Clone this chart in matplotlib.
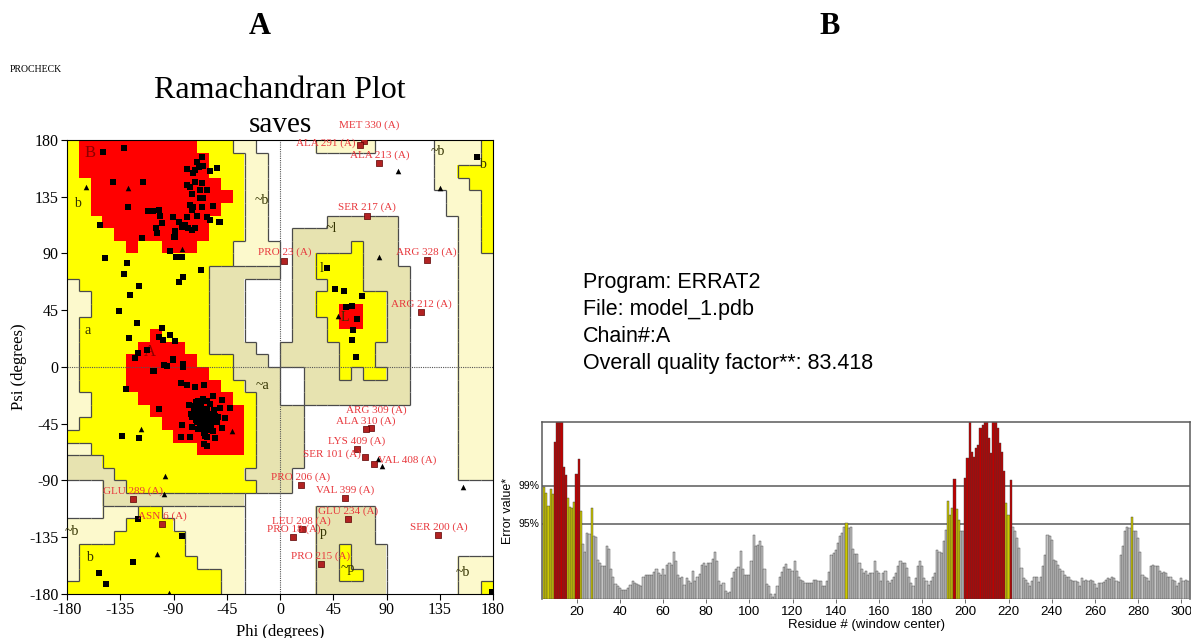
import matplotlib.pyplot as plt
import numpy as np
from matplotlib.colors import ListedColormap
from matplotlib.collections import LineCollection
import matplotlib.transforms as mtransforms

plt.rcParams['font.family'] = 'Liberation Serif'
plt.rcParams['axes.unicode_minus'] = False
SANS = 'Liberation Sans'

# ---------------- Ramachandran data ----------------
# 10 degree cells, rows psi 180 -> -180, columns phi -180 -> 180
# R core, Y allowed, G / g generously allowed, . disallowed
region_rows = [
    "YRRRRRRRRRRYYYgg.....ggggg.....ggggY",
    "YRRRRRRRRRRRYYYgg..............ggggY",
    "YRRRRRRRRRRRYYYgg..............ggYYY",
    "YYRRRRRRRRRRRYYgg..............gggYY",
    "YYRRRRRRRRRRRRYgg...............gggY",
    "YYRRRRRRRRRRRYYgg...............gggY",
    "YYYRRRRRRRRRYYYgg.....GGGGGG.....ggY",
    "YYYYRRRRRRRRYYYgg..GGGGGGGGG.....ggY",
    "YYYYYRYYRRRYYYgggg.GGGGGYGGG.....ggY",
    "YYYYYYYYYYYYYYgggg.GGYYYYGGG.....ggg",
    "YYYYYYYYYYYYGGGGGG.GGYYYYGGGG....ggg",
    "gYYYYYYYYYYYGGG....GGGYYYGGGG....ggg",
    "ggYYYYYYYYYYGGG....GGYYYYYYGG....ggg",
    "ggYYYYYYYYYYGGG....GGYYRRYYGG....ggg",
    "gYYYYYYYYYYYGGG....GGGYRRYYGG....ggg",
    "gYYYYYYRYYYYGGG....GGGYYYYYGG....ggg",
    "gYYYYYRRRRYYGGGG..GGGGGYYYGGG....ggg",
    "gYYYYRRRRRRYYYGGG.GGGGGYYYGGG....ggg",
    "gYYYYRRRRRRRYYGGGG..GGGYGYYGG....ggg",
    "gYYYYRRRRRRRRYYGGG..GGGGGGGGG....ggg",
    "ggYYYYRRRRRRRRYYGG..GGGGGGGGG....ggg",
    "ggYYYYYRRRRRRRRYGGGG.............ggg",
    "gYYYYYYYRRRRRRRYGGGG.............ggg",
    "YYYYYYYYYRRRRRRYGGGG.............ggg",
    "ggYYYYYYYYYRRRRYGGGG.............ggg",
    "GGGYYYYYYYYYYYYYGGGG.............ggg",
    "GGGGYYYYYYYYYYYGGGG..............ggg",
    "...GGYYYYYYYYYYYGGG.................",
    "...GGGGGGGGGGGG.....................",
    "...gggYYggggggg......GGGGG..........",
    "gggggYYYYgggggg......GGGGG..........",
    "ggggYYYYYYggggg......GGGGG..........",
    "gYYYYYYYYYggggg......GGYGGG.........",
    "gYYYYYYYYYYgggg......GGYGGG......ggg",
    "gYYYYYYYYYYYYgg......GGYYGG......ggg",
    "YYYYYYYYYYYYYgg......GGGGGG......ggY",
]
region_codes = '.gGYR'
region_colors = ['#FFFFFF', '#FCF9CC', '#E7E3B0', '#FFFF00', '#FF0000']

# residues (black squares)
phi_sq = [-149.8, -131.8, -141.4, -116.0, -128.2, -152.1, -147.6, -116.9, -111.8, -107.0,
          -102.5, -101.7, -105.0, -104.3, -100.0, -90.2, -88.6, -89.5, -93.0, -88.2,
          -83.2, -85.4, -82.3, -66.5, -129.6, -131.6, -118.9, -126.8, -136.3, -121.1,
          -127.9, -100.0, -93.0, -88.7, -99.2, -102.0, -112.6, -119.7, -122.5, -90.8,
          -97.8, -95.5, -82.2,
          -66.2, -70.4, -68.2, -71.8, -78.8, -59.2, -53.5, -64.8, -73.3, -78.8,
          -76.0, -71.8, -67.6, -61.9, -66.2, -74.6, -67.6, -64.8, -76.0, -73.2,
          -74.6, -66.2, -56.4, -78.8, -70.4, -61.9, -59.2, -51.3, -85.1, -82.8,
          -80.3, -77.5, -74.6, -71.8, -90.8, -88.7, -50.7,
          -106.2, -90.2, -81.7, -130.1, -102.3, -83.9, -78.3, -71.8, -64.2, -56.9,
          -49.3, -50.7, -42.3, -83.1, -74.6, -83.9, -76.0, -61.9, -55.0, -61.9,
          -49.3, -46.5, -52.1, -133.8, -118.9, -64.2, -107.0,
          -120.3, -83.1, -124.0, -152.7, -147.0,
          166.2, 40.0, 46.5, 54.3, 69.6, 55.8, 60.6, 65.3, 62.0, 60.8, 64.2, 178.9]
psi_sq = [170.2, 173.4, 146.5, 146.5, 127.1, 112.6, 86.2, 102.1, 124.0, 124.0,
          124.5, 120.0, 110.0, 106.0, 114.0, 118.7, 108.0, 103.0, 92.2, 87.5,
          87.5, 67.2, 71.0, 76.9, 82.2, 73.7, 64.5, 57.0, 44.7, 34.7,
          22.8, 30.7, 25.4, 20.8, 21.5, 23.6, 13.5, 11.3, 7.4, 6.1,
          1.7, 0.9, 0.3,
          166.3, 162.8, 158.8, 156.2, 156.8, 155.7, 157.5, 159.6, 153.6, 144.3,
          143.0, 146.9, 140.4, 140.4, 145.6, 137.2, 133.8, 133.8, 128.5, 126.6,
          124.5, 126.6, 127.7, 119.2, 119.8, 119.2, 116.6, 115.2, 115.2, 111.0,
          112.6, 110.0, 108.4, 110.0, 119.2, 103.3, 115.2,
          -3.2, 5.5, 2.1, -17.7, -33.5, -12.4, -14.3, -15.6, -14.3, -23.0,
          -26.2, -32.8, -32.8, -46.0, -47.3, -55.3, -55.7, -55.3, -56.5, -62.6,
          -48.6, -40.7, -39.4, -54.7, -56.5, -61.0, -2.9,
          -120.8, -133.8, -154.4, -163.6, -172.3,
          166.3, 78.3, 61.8, 60.5, 56.5, 47.3, 48.6, 38.0, 29.3, 21.4, 7.7, -178.7]

# dense helix cluster
phi_helix = [-66, -63, -60, -68, -71, -64, -58, -62, -67, -70, -73, -61, -57, -65, -69,
             -74, -60, -55, -63, -66, -72, -59, -64, -68, -62, -56, -70, -65, -61, -67,
             -75, -58, -63, -69, -60, -66, -71, -64, -57, -62, -68, -53, -77, -65, -60]
psi_helix = [-38, -41, -40, -35, -42, -44, -37, -33, -30, -38, -35, -46, -43, -48, -27,
             -40, -50, -39, -36, -45, -31, -29, -52, -47, -42, -34, -44, -25, -37, -41,
             -37, -47, -55, -49, -44, -33, -28, -39, -51, -27, -42, -44, -30, -35, -39]

# glycines (triangles)
phi_gly = [-164.0, -128.7, -83.1, -117.5, -40.3, -97.2, -97.8, -103.7, -93.5,
           100.0, 135.2, 83.9, 49.3, 83.1, 86.5, 154.9]
psi_gly = [143.0, 142.2, 93.3, -49.2, -50.8, -86.2, -101.0, -148.5, -179.0,
           155.7, 141.7, 87.5, 40.4, -73.2, -78.5, -95.0]

# labelled residues outside favoured regions
out_names = ['MET 330 (A)', 'ALA 291 (A)', 'ALA 213 (A)', 'SER 217 (A)', 'PRO 23 (A)',
             'ARG 328 (A)', 'ARG 212 (A)', 'ARG 309 (A)', 'ALA 310 (A)', 'LYS 409 (A)',
             'SER 101 (A)', 'VAL 408 (A)', 'PRO 206 (A)', 'VAL 399 (A)', 'GLU 234 (A)',
             'LEU 208 (A)', 'PRO 18 (A)', 'PRO 215 (A)', 'SER 200 (A)', 'GLU 289 (A)',
             'ASN 6 (A)']
out_phi = [71.0, 67.6, 83.9, 73.3, 3.6, 124.0, 119.2, 76.6, 72.7, 64.8,
           71.8, 79.4, 17.5, 54.9, 57.7, 18.4, 11.3, 34.6, 133.8, -124.5, -99.4]
out_psi = [179.5, 176.0, 161.5, 120.0, 84.3, 84.8, 43.4, -48.1, -49.2, -65.3,
           -71.6, -76.9, -93.6, -104.1, -120.8, -128.8, -135.0, -156.2, -133.3, -104.9,
           -124.5]

# region letters
reg_text = ['B', 'b', 'a', 'A', '~b', '~a', '~l', 'l', 'L', '~b', 'b', 'p', '~p', '~b', '~b', 'b']
reg_phi = [-160.6, -171.5, -162.3, -109.9, -15.2, -14.4, 43.1, 35.5, 54.9, 133.5, 170.7,
           36.3, 57.0, 154.7, -175.8, -161.4]
reg_psi = [169.7, 130.0, 29.3, 11.9, 132.4, -14.3, 110.2, 78.5, 38.9, 170.5, 160.2,
           -131.6, -160.0, -162.6, -130.8, -150.7]

# ---------------- ERRAT data ----------------
errat_values = [
    # 5 - 22
    17.0, 16.1, 14.2, 16.7, 15.9, 23.8, 28, 28, 28, 20.0, 18.9, 15.4, 14.0, 13.9, 14.8, 19.0, 21.3, 13.4,
    # 23 - 50
    8.3, 7.2, 10.0, 9.9, 13.9, 9.5, 9.4, 6.0, 5.5, 5.0, 5.0, 8.0, 7.6,
    4.5, 3.4, 2.3, 1.9, 1.7, 1.3, 1.3, 1.4, 1.7, 2.2, 2.7, 2.4, 2.3, 2.2, 1.9,
    # 51 - 77
    3.3, 3.7, 3.6, 3.6, 3.7, 4.1, 4.5, 3.9, 3.7, 4.5, 3.7, 5.2, 5.5, 5.2,
    7.1, 5.7, 3.7, 3.2, 3.4, 2.2, 3.2, 2.7, 2.4, 4.3, 2.7, 3.4, 3.8,
    # 78 - 140
    5.2, 5.4, 5.0, 5.5, 5.4, 6.1, 7.1, 5.8, 2.7, 2.2, 2.5, 1.2, 0.9, 1.0, 3.2, 4.1,
    4.5, 4.8, 7.3, 4.6, 3.7, 3.7, 3.7, 5.8, 9.7, 8.0, 8.2, 8.8, 8.1, 4.6, 2.3, 1.9,
    0.7, 0.3, 0.8, 1.9, 3.4, 4.1, 4.8, 5.3, 4.5, 4.5, 4.2, 5.7, 4.2, 3.4, 2.9, 2.7,
    2.4, 2.4, 2.4, 2.5, 2.9, 2.9, 2.7, 2.7, 1.9, 1.9, 2.7, 4.1, 6.7, 7.0, 7.5,
    # 141 - 191
    8.5, 9.5, 10.0, 11.0, 11.5, 10.8, 10.9, 7.6, 6.9, 6.9,
    5.5, 4.6, 3.9, 4.2, 3.7, 3.9, 4.0, 5.8, 4.3, 4.0,
    2.7, 3.9, 4.2, 2.8, 2.5, 2.9, 3.3, 3.9, 5.0, 5.7,
    5.5, 5.4, 4.7, 3.4, 2.5, 1.9, 3.2, 5.0, 5.7, 5.0,
    3.2, 2.7, 2.2, 2.8, 3.4, 3.9, 7.5, 7.1, 7.0, 8.8, 10.5,
    # 192 - 199
    14.9, 12.8, 13.9, 18.2, 13.7, 12.0, 10.3, 10.4,
    # 200 - 218
    18.4, 21.4, 28, 22.4, 21.6, 22.9, 23.4, 26.0, 26.5, 28, 28, 24.4, 22.2, 28, 28, 26.0, 23.7, 22.4, 19.4,
    # 219 - 227
    14.6, 12.8, 18.1, 11.0, 10.3, 9.3, 7.7, 4.7, 3.2,
    # 228 - 303
    2.9, 2.4, 1.9, 2.8, 3.4, 3.3, 2.6, 3.4, 5.0, 6.7,
    9.7, 9.5, 9.0, 6.0, 5.7, 5.2, 4.5, 4.2, 3.7, 3.3,
    3.4, 2.9, 2.7, 2.8, 2.6, 1.9, 3.2, 2.7, 2.9, 2.8,
    2.9, 2.7, 2.3, 1.6, 2.4, 2.4, 2.6, 2.9, 3.2, 3.1,
    3.4, 3.2, 2.8, 2.6, 6.7, 8.0, 10.3, 11.0, 10.8, 12.5,
    10.3, 10.4, 9.3, 7.2, 3.7, 3.3, 3.2, 2.7, 5.0, 5.1,
    5.0, 5.0, 4.2, 3.9, 4.1, 3.9, 3.4, 3.3, 2.9, 2.7,
    1.9, 2.4, 3.2, 2.7, 2.9, 2.7,
]
first_residue = 5
limit_95 = 11.38
limit_99 = 17.19
errat_info = ['Program: ERRAT2', 'File: model_1.pdb', 'Chain#:A',
              'Overall quality factor**: 83.418']

# ---------------- figure ----------------
fig = plt.figure(figsize=(11.91, 6.38), dpi=100)

fig.text(260 / 1191, 1 - 27 / 638, 'A', fontsize=22, fontweight='bold', ha='center', va='center')
fig.text(830 / 1191, 1 - 27 / 638, 'B', fontsize=22, fontweight='bold', ha='center', va='center')
fig.text(10 / 1191, 1 - 70 / 638, 'PROCHECK', fontsize=7, ha='left', va='center')
fig.text(280 / 1191, 1 - 90 / 638, 'Ramachandran Plot', fontsize=23, ha='center', va='center')
fig.text(280 / 1191, 1 - 125 / 638, 'saves', fontsize=21, ha='center', va='center')

# Ramachandran panel
ax = fig.add_axes([67 / 1191, 1 - 594 / 638, 426 / 1191, 454 / 638])
codes = np.array([[region_codes.index(ch) for ch in row] for row in region_rows])
ax.imshow(codes, cmap=ListedColormap(region_colors), vmin=-0.5, vmax=len(region_codes) - 0.5,
          extent=(-180, 180, -180, 180), origin='upper', interpolation='nearest',
          aspect='auto', zorder=0)

# dark outlines between regions (not round the red core)
segs = []
nr, nc = codes.shape
red = region_codes.index('R')
for r in range(nr):
    for c in range(nc):
        x0 = -180 + 10 * c
        y1 = 180 - 10 * r
        if c + 1 < nc and codes[r, c] != codes[r, c + 1] and red not in (codes[r, c], codes[r, c + 1]):
            segs.append([(x0 + 10, y1 - 10), (x0 + 10, y1)])
        if r + 1 < nr and codes[r, c] != codes[r + 1, c] and red not in (codes[r, c], codes[r + 1, c]):
            segs.append([(x0, y1 - 10), (x0 + 10, y1 - 10)])
ax.add_collection(LineCollection(segs, colors='#4a4a4a', linewidths=0.9, zorder=1))

ax.axhline(0, color='#555555', lw=0.8, ls=(0, (1, 1)), zorder=2)
ax.axvline(0, color='#555555', lw=0.8, ls=(0, (1, 1)), zorder=2)

for txt, x, y in zip(reg_text, reg_phi, reg_psi):
    col = '#8B0000' if txt in ('A', 'B') else '#333300'
    size = 12 if txt in ('A', 'B') else 10
    ax.text(x, y, txt, color=col, fontsize=size, ha='center', va='center', zorder=3)

ax.scatter(phi_sq, psi_sq, marker='s', s=15, c='black', linewidths=0, zorder=4)
ax.scatter(phi_helix, psi_helix, marker='s', s=15, c='black', linewidths=0, zorder=4)
ax.scatter(phi_gly, psi_gly, marker='^', s=16, c='black', linewidths=0, zorder=4)
ax.scatter(out_phi, out_psi, marker='s', s=18, c='#B22222', edgecolors='#5a0000',
           linewidths=0.5, zorder=5)

# label placement: centred above the point, a few nudged apart where they crowd
label_place = {
    'MET 330 (A)': ((4, 8), 'center'),
    'ALA 291 (A)': ((-3, -2), 'right'),
    'ARG 309 (A)': ((4, 9), 'center'),
    'SER 101 (A)': ((-3, -1), 'right'),
    'VAL 408 (A)': ((3, -1), 'left'),
}
for name, x, y in zip(out_names, out_phi, out_psi):
    off, ha = label_place.get(name, ((0, 2.5), 'center'))
    ax.annotate(name, (x, y), xytext=off, textcoords='offset points', ha=ha,
                va='bottom', color='#E8383D', fontsize=8, zorder=6)

ticks = list(range(-180, 181, 45))
ax.set_xlim(-180, 180)
ax.set_ylim(-180, 180)
ax.set_xticks(ticks)
ax.set_yticks(ticks)
ax.set_xticklabels([str(t) for t in ticks], fontsize=11.5)
ax.set_yticklabels([str(t) for t in ticks], fontsize=11.5)
ax.tick_params(length=4, width=0.8, pad=2)
ax.set_xlabel('Phi (degrees)', fontsize=12, labelpad=4)
ax.set_ylabel('Psi (degrees)', fontsize=12, labelpad=2)
for sp in ax.spines.values():
    sp.set_linewidth(0.8)

# ERRAT panel
for i, line in enumerate(errat_info):
    fig.text(583 / 1191, 1 - (283 + 27 * i) / 638, line, fontsize=15.5, family=SANS,
             ha='left', va='center')

ax2 = fig.add_axes([542 / 1191, 1 - 599 / 638, 648 / 1191, 177 / 638])
residues = np.arange(first_residue, first_residue + len(errat_values))
bar_colors = ['#BE0000' if v > limit_99 else '#CCC800' if v > limit_95 else '#C4C4C4'
              for v in errat_values]
ax2.bar(residues, errat_values, width=1.0, color=bar_colors, edgecolor='#3c3c3c',
        linewidth=0.3, zorder=2)
ax2.axhline(limit_95, color='#5a5a5a', lw=1.1, zorder=1)
ax2.axhline(limit_99, color='#5a5a5a', lw=1.1, zorder=1)
ax2.set_xlim(4, 304)
ax2.set_ylim(0, 26.9)
ax2.set_yticks([])
ax2.set_xticks(range(20, 301, 20))
ax2.set_xticklabels([str(t) for t in range(20, 301, 20)], fontsize=9.5, family=SANS)
ax2.tick_params(axis='x', length=3, width=0.6, pad=2, color='#555555')
ax2.spines['bottom'].set_visible(False)
for side in ('top', 'left', 'right'):
    ax2.spines[side].set_color('#5a5a5a')
    ax2.spines[side].set_linewidth(1.1)
trans = mtransforms.blended_transform_factory(ax2.transAxes, ax2.transData)
ax2.text(-0.004, limit_99, '99%', transform=trans, ha='right', va='center', fontsize=7.5, family=SANS)
ax2.text(-0.004, limit_95, '95%', transform=trans, ha='right', va='center', fontsize=7.5, family=SANS)
ax2.set_xlabel('Residue # (window center)', fontsize=9.5, family=SANS, labelpad=1)
ax2.set_ylabel('Error value*', fontsize=9, family=SANS, labelpad=20)

fig.savefig('out.png', dpi=100)
